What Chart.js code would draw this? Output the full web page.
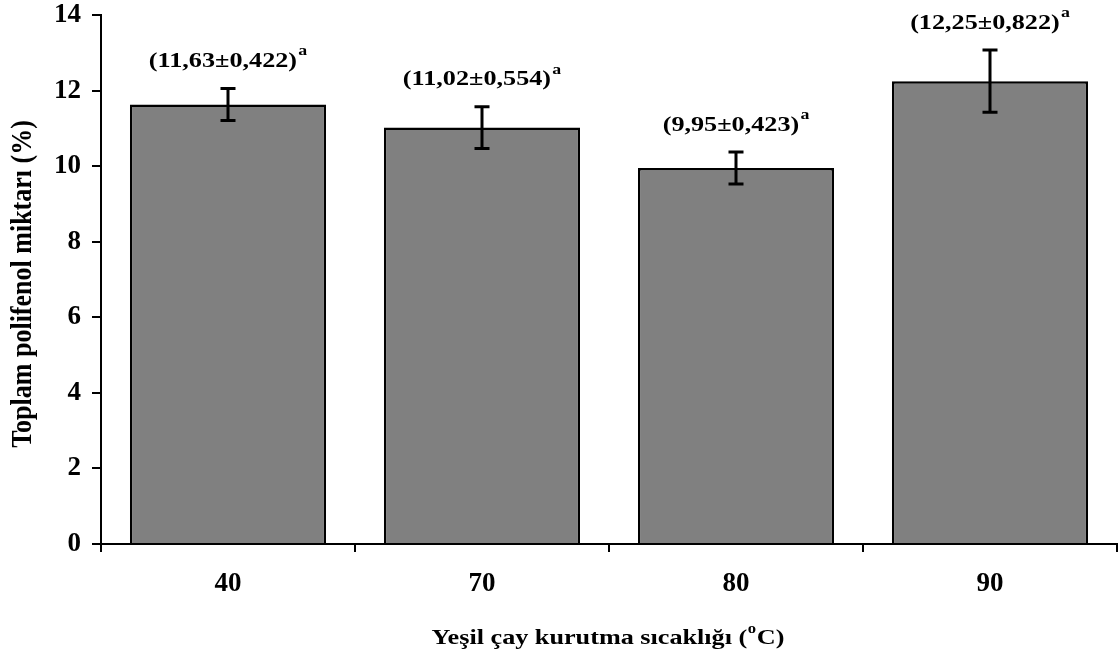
<!DOCTYPE html>
<html><head><meta charset="utf-8">
<script src="https://cdn.jsdelivr.net/npm/chart.js@4/dist/chart.umd.min.js"></script>
<style>html,body{margin:0;padding:0;background:#fff}#wrap{width:1118px;height:659px}</style>
</head><body><div id="wrap"><canvas id="c" width="1118" height="659"></canvas></div>
<script>
const categories = ['40', '70', '80', '90'];
const means = [11.63, 11.02, 9.95, 12.25];
const sds = [0.422, 0.554, 0.423, 0.822];
const letters = ['a', 'a', 'a', 'a'];
const yTicks = [0, 2, 4, 6, 8, 10, 12, 14];
const xTitle = ['Yeşil çay kurutma sıcaklığı (', 'o', 'C)'];
const yTitle = 'Toplam polifenol miktarı (%)';

const FF = '"Liberation Serif", "Times New Roman", serif';
const SX = 1.19;

function fmt(v, d) { return v.toFixed(d).replace('.', ','); }

const overlay = {
  id: 'overlay',
  afterDatasetsDraw(chart) {
    const ctx = chart.ctx;
    const ys = chart.scales.y;
    const meta = chart.getDatasetMeta(0);
    ctx.save();
    ctx.strokeStyle = '#000';
    ctx.lineWidth = 3;
    meta.data.forEach((bar, i) => {
      const x = bar.x;
      const yt = ys.getPixelForValue(means[i] + sds[i]);
      const yb = ys.getPixelForValue(means[i] - sds[i]);
      ctx.beginPath();
      ctx.moveTo(x, yt); ctx.lineTo(x, yb);
      ctx.moveTo(x - 7.5, yt); ctx.lineTo(x + 7.5, yt);
      ctx.moveTo(x - 7.5, yb); ctx.lineTo(x + 7.5, yb);
      ctx.stroke();
      const main = '(' + fmt(means[i], 2) + '±' + fmt(sds[i], 3) + ')';
      ctx.fillStyle = '#000';
      ctx.textBaseline = 'middle';
      ctx.textAlign = 'left';
      ctx.font = 'bold 22px ' + FF;
      const w1 = ctx.measureText(main).width;
      ctx.font = 'bold 15px ' + FF;
      const w2 = ctx.measureText(letters[i]).width;
      const tw = (w1 + w2 + 1) * SX;
      const ly = yt - 27;
      ctx.save();
      ctx.translate(x - tw / 2, ly);
      ctx.scale(SX, 1);
      ctx.font = 'bold 22px ' + FF;
      ctx.fillText(main, 0, 0);
      ctx.font = 'bold 15px ' + FF;
      ctx.fillText(letters[i], w1 + 1, -10);
      ctx.restore();
    });
    ctx.font = 'bold 22px ' + FF;
    const a = ctx.measureText(xTitle[0]).width;
    ctx.font = 'bold 14px ' + FF;
    const b = ctx.measureText(xTitle[1]).width;
    ctx.font = 'bold 22px ' + FF;
    const c = ctx.measureText(xTitle[2]).width;
    const total = (a + b + c + 1) * SX;
    const cx = 608;
    ctx.save();
    ctx.translate(cx - total / 2, 638);
    ctx.scale(SX, 1);
    ctx.textBaseline = 'middle';
    ctx.font = 'bold 22px ' + FF;
    ctx.fillText(xTitle[0], 0, 0);
    ctx.font = 'bold 14px ' + FF;
    ctx.fillText(xTitle[1], a + 0.5, -9);
    ctx.font = 'bold 22px ' + FF;
    ctx.fillText(xTitle[2], a + b + 1, 0);
    ctx.restore();
    ctx.save();
    ctx.translate(24, 284);
    ctx.rotate(-Math.PI / 2);
    ctx.scale(1, 1.1);
    ctx.textAlign = 'center';
    ctx.textBaseline = 'middle';
    ctx.font = 'bold 26px ' + FF;
    ctx.fillText(yTitle, 0, 0);
    ctx.restore();
    ctx.restore();
  }
};

new Chart(document.getElementById('c'), {
  type: 'bar',
  data: {
    labels: categories,
    datasets: [{
      data: means,
      backgroundColor: '#808080',
      borderColor: '#000',
      borderWidth: 2.5,
      categoryPercentage: 1,
      barPercentage: 0.772
    }]
  },
  options: {
    responsive: false,
    animation: false,
    devicePixelRatio: 1,
    layout: { autoPadding: false, padding: { top: 15, right: 1, left: 0, bottom: 0 } },
    plugins: { legend: { display: false }, tooltip: { enabled: false } },
    scales: {
      y: {
        min: 0, max: 14,
        afterBuildTicks: s => { s.ticks = yTicks.map(v => ({ value: v })); },
        ticks: { color: '#000', padding: 11, font: { family: FF, size: 27, weight: 'bold' } },
        grid: { drawOnChartArea: false, tickLength: 9, color: '#000', lineWidth: 2 },
        border: { color: '#000', width: 2 },
        afterFit: s => { s.width = 101; s.paddingTop = 0; s.paddingBottom = 0; }
      },
      x: {
        ticks: { color: '#000', padding: 16, font: { family: FF, size: 27, weight: 'bold' } },
        grid: { offset: true, drawOnChartArea: false, tickLength: 8, color: '#000', lineWidth: 2 },
        border: { color: '#000', width: 2 },
        afterFit: s => { s.height = 115; s.paddingLeft = 0; s.paddingRight = 0; }
      }
    }
  },
  plugins: [overlay]
});
</script></body></html>
